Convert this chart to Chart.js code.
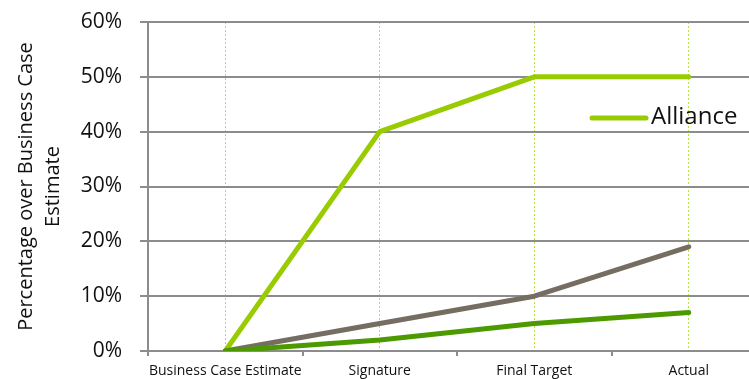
<!DOCTYPE html>
<html>
<head>
<meta charset="utf-8">
<script src="https://cdn.jsdelivr.net/npm/chart.js@4/dist/chart.umd.min.js"></script>
<style>
  html, body { margin: 0; padding: 0; background: #fff; overflow: hidden; }
  #wrap { width: 749px; height: 379px; overflow: hidden; position: relative; }
  canvas { display: block; }
</style>
</head>
<body>
<div id="wrap"><canvas id="chart" width="770" height="390"></canvas></div>
<script>
// Stages of the project
const stages = ['Business Case Estimate', 'Signature', 'Final Target', 'Actual'];

// Percentage over the business case estimate at each stage
const allianceValues = [0, 40, 50, 50];
const secondValues   = [0, 5, 10, 19];
const thirdValues    = [0, 2, 5, 7];

// Y axis tick values (percent)
const yTicks = [0, 10, 20, 30, 40, 50, 60];

const yTitle = ['Percentage over Business Case', 'Estimate'];
const legendLabel = 'Alliance';

const FONT = '"Open Sans", "Noto Sans", sans-serif';
const GRID = '#8c8c8c';
const LIGHT_GREEN = '#99cc00';
const BROWN_GREY = '#766d62';
const DARK_GREEN = '#4c9a00';

// Single-entry legend drawn inside the plot on the right
const insideLegend = {
  id: 'insideLegend',
  afterDraw(chart) {
    const { ctx, chartArea } = chart;
    const y = chartArea.top + 96;
    const x0 = chartArea.right - 174;
    ctx.save();
    ctx.strokeStyle = LIGHT_GREEN;
    ctx.lineWidth = 5;
    ctx.lineCap = 'round';
    ctx.beginPath();
    ctx.moveTo(x0, y);
    ctx.lineTo(x0 + 54, y);
    ctx.stroke();
    ctx.fillStyle = '#111';
    ctx.font = '24px ' + FONT;
    ctx.textBaseline = 'middle';
    ctx.textAlign = 'left';
    ctx.fillText(legendLabel, x0 + 59, y - 1);
    ctx.restore();
  }
};

new Chart(document.getElementById('chart'), {
  type: 'line',
  data: {
    labels: stages,
    datasets: [
      { label: 'Series 3', data: thirdValues, borderColor: DARK_GREEN },
      { label: 'Series 2', data: secondValues, borderColor: BROWN_GREY },
      { label: legendLabel, data: allianceValues, borderColor: LIGHT_GREEN }
    ]
  },
  options: {
    responsive: false,
    animation: false,
    devicePixelRatio: 1,
    layout: { padding: { left: 13, right: 4, top: 22, bottom: 0 } },
    elements: {
      line: { borderWidth: 5, tension: 0, borderCapStyle: 'round', borderJoinStyle: 'round', fill: false },
      point: { radius: 0, hoverRadius: 0 }
    },
    plugins: {
      legend: { display: false },
      tooltip: { enabled: false }
    },
    scales: {
      x: {
        type: 'category',
        offset: true,
        grid: { offset: true, drawOnChartArea: false, drawTicks: true, tickLength: 5, color: GRID, lineWidth: 2 },
        border: { display: true, color: GRID, width: 2 },
        ticks: { color: '#111', font: { family: FONT, size: 14 }, padding: 7, maxRotation: 0, autoSkip: false },
        afterFit(scale) { scale.height = 390 - 351; }
      },
      x2: {
        type: 'category',
        position: 'bottom',
        offset: true,
        z: 1,
        grid: { offset: false, drawTicks: false, color: '#b8e04e', lineWidth: 1 },
        border: { display: false, dash: [2, 2] },
        ticks: { display: false },
        afterFit(scale) { scale.height = 0; }
      },
      y: {
        min: 0,
        max: 60,
        afterBuildTicks(scale) { scale.ticks = yTicks.map(v => ({ value: v })); },
        ticks: {
          color: '#111',
          font: { family: FONT, size: 21 },
          padding: 18,
          callback: v => v + '%'
        },
        grid: { color: GRID, lineWidth: 2, tickLength: 8 },
        border: { display: true, color: GRID, width: 2 },
        title: {
          display: true,
          text: yTitle,
          color: '#111',
          font: { family: FONT, size: 20, lineHeight: 1.35 },
          padding: { top: 0, bottom: 0 }
        },
        afterFit(scale) {
          scale.width = 148 - 13;
          scale.paddingTop = 0;
          scale.paddingBottom = 0;
        }
      }
    }
  },
  plugins: [insideLegend]
});
</script>
</body>
</html>
